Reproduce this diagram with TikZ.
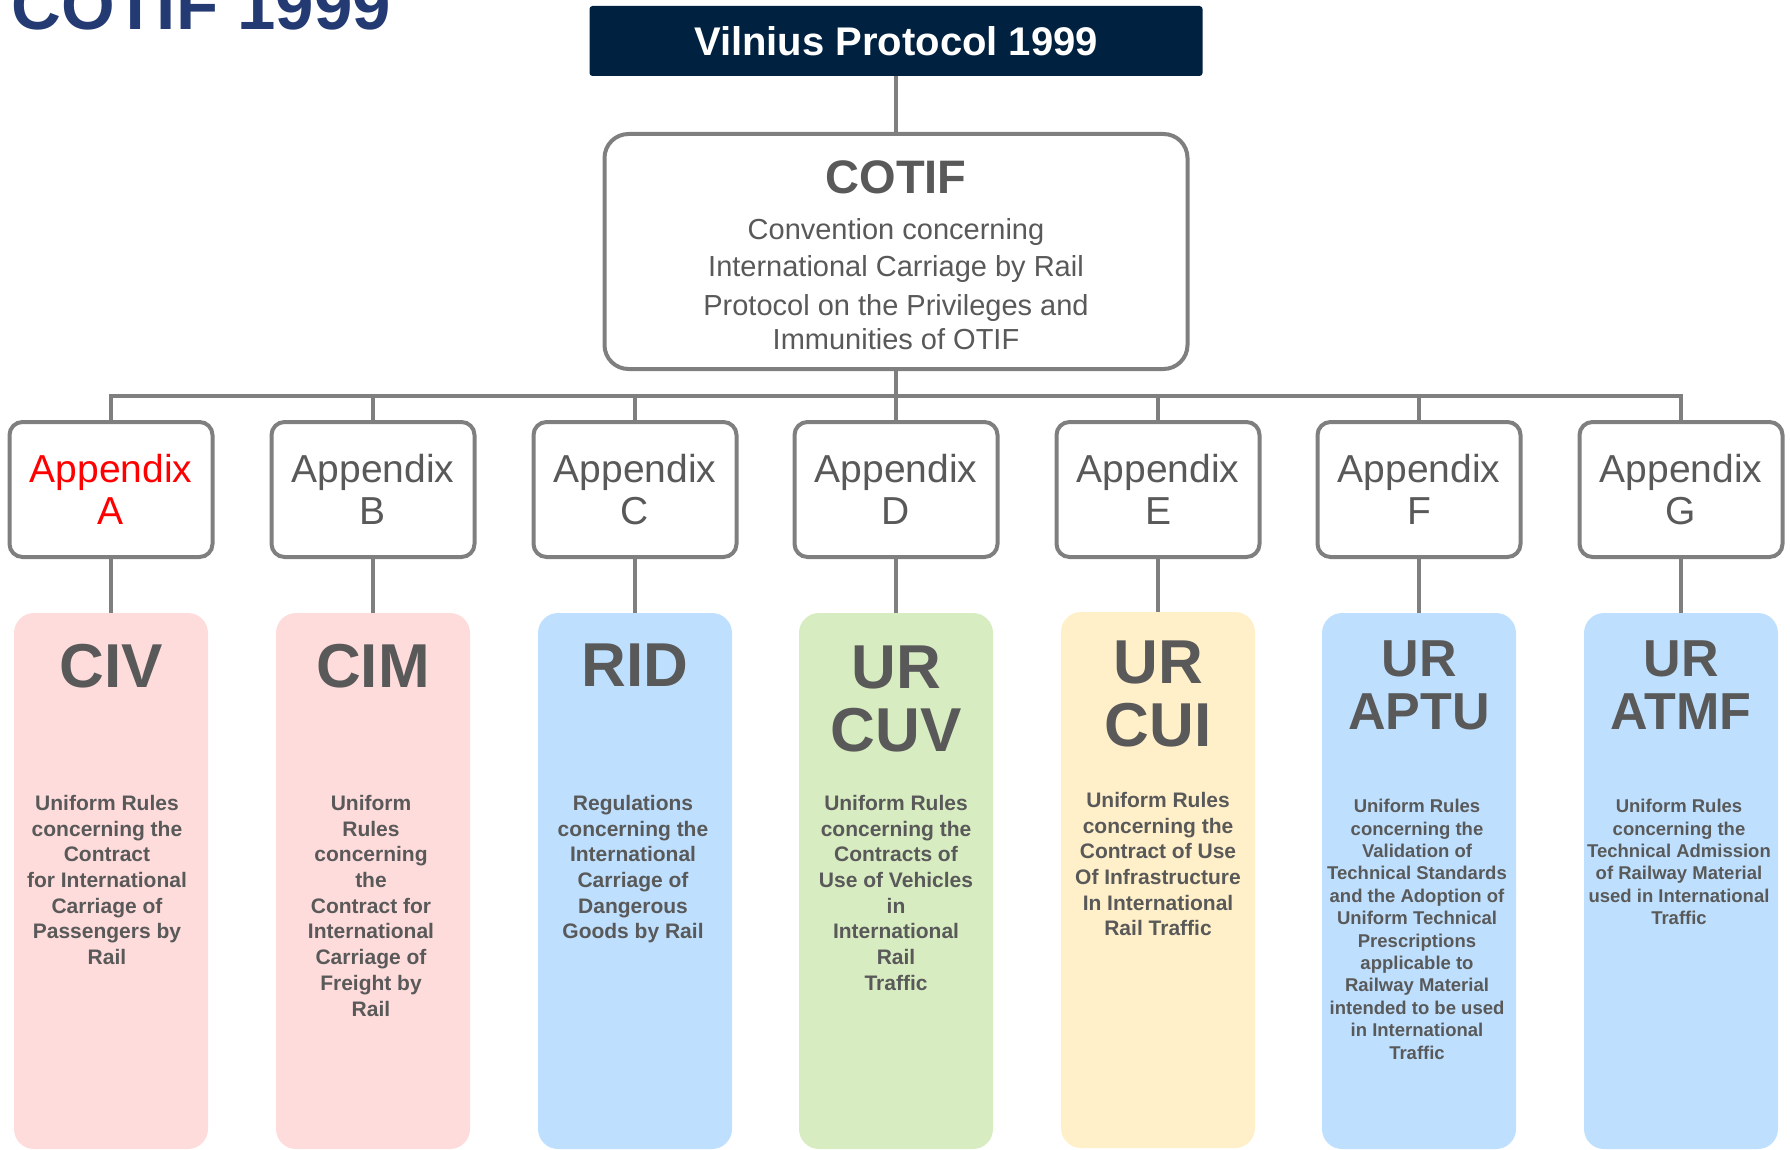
\documentclass[tikz,border=0pt]{standalone}
\usepackage{fontspec}
\setmainfont{Liberation Sans}
\definecolor{titleblue}{RGB}{36,58,115}
\definecolor{navy}{RGB}{0,33,64}
\definecolor{linegray}{RGB}{127,127,127}
\definecolor{textgray}{RGB}{89,89,89}
\definecolor{pinkfill}{RGB}{255,220,220}
\definecolor{bluefill}{RGB}{190,224,254}
\definecolor{greenfill}{RGB}{216,236,194}
\definecolor{yellowfill}{RGB}{255,240,201}

\begin{document}
\begin{tikzpicture}[x=1pt,y=-1pt,
  link/.style={draw=linegray,line width=4pt},
  appbox/.style={draw=linegray,line width=4pt,fill=white,rounded corners=13pt,
    minimum width=203pt,minimum height=135pt,inner sep=0pt,align=center,
    text=textgray,font=\fontsize{39}{42}\selectfont},
  rulebox/.style={rounded corners=20pt,minimum width=194pt,minimum height=536pt,inner sep=0pt},
  bigname/.style={anchor=north,inner sep=0pt,align=center,text=textgray,
    font=\bfseries\fontsize{62}{63}\selectfont},
  midname/.style={bigname,font=\bfseries\fontsize{52}{53}\selectfont},
  ruletext/.style={anchor=north,inner sep=0pt,align=center,text=textgray,
    font=\bfseries\fontsize{21}{25.7}\selectfont},
  smalltext/.style={ruletext,font=\bfseries\fontsize{18.5}{22.4}\selectfont}]
  \useasboundingbox (0,0) rectangle (1790,1150);

  \node[anchor=base west,inner sep=0pt,text=titleblue,font=\bfseries\fontsize{69}{70}\selectfont] (heading) at (11,30) {COTIF 1999};

  \node[fill=navy,rounded corners=3pt,minimum width=613pt,minimum height=70pt,inner sep=0pt,
    text=white,font=\bfseries\fontsize{40}{42}\selectfont] (vilnius) at (896,41) {Vilnius Protocol 1999};

  \node[draw=linegray,line width=4pt,fill=white,rounded corners=24pt,minimum width=583pt,
    minimum height=235pt,inner sep=0pt] (cotif) at (896,251.5) {};
  \node[anchor=north,inner sep=0pt,text=textgray,font=\bfseries\fontsize{47}{48}\selectfont] (cotif-title) at (896,160) {COTIF};
  \node[anchor=north,inner sep=0pt,align=center,text=textgray,font=\fontsize{29}{37}\selectfont] (cotif-conv) at (896,218) {Convention concerning\\International Carriage by Rail};
  \node[anchor=north,inner sep=0pt,align=center,text=textgray,font=\fontsize{29}{34}\selectfont] (cotif-prot) at (896,294.5) {Protocol on the Privileges and\\Immunities of OTIF};

  \node[appbox,text=red] (appA) at (111,489.5) {Appendix\\A};
  \node[appbox] (appB) at (373,489.5) {Appendix\\B};
  \node[appbox] (appC) at (635,489.5) {Appendix\\C};
  \node[appbox] (appD) at (896,489.5) {Appendix\\D};
  \node[appbox] (appE) at (1158,489.5) {Appendix\\E};
  \node[appbox] (appF) at (1419,489.5) {Appendix\\F};
  \node[appbox] (appG) at (1681,489.5) {Appendix\\G};

  \node[rulebox,fill=pinkfill] (civ) at (111,881) {};
  \node[rulebox,fill=pinkfill] (cim) at (373,881) {};
  \node[rulebox,fill=bluefill] (rid) at (635,881) {};
  \node[rulebox,fill=greenfill] (cuv) at (896,881) {};
  \node[rulebox,fill=yellowfill] (cui) at (1158,880) {};
  \node[rulebox,fill=bluefill] (aptu) at (1419,881) {};
  \node[rulebox,fill=bluefill] (atmf) at (1681,881) {};

  \node[bigname] (civ-title) at (111,644) {CIV};
  \node[bigname] (cim-title) at (373,644) {CIM};
  \node[bigname] (rid-title) at (635,644) {RID};
  \node[bigname] (cuv-title) at (896,646) {UR\\CUV};
  \node[bigname] (cui-title) at (1158,641) {UR\\CUI};
  \node[midname] (aptu-title) at (1419,640.5) {UR\\APTU};
  \node[midname] (atmf-title) at (1681,640.5) {UR\\ATMF};

  \node[ruletext] (civ-text) at (107,795) {Uniform Rules\\concerning the\\Contract\\for International\\Carriage of\\Passengers by\\Rail};
  \node[ruletext] (cim-text) at (371,795) {Uniform\\Rules\\concerning\\the\\Contract for\\International\\Carriage of\\Freight by\\Rail};
  \node[ruletext] (rid-text) at (633,795) {Regulations\\concerning the\\International\\Carriage of\\Dangerous\\Goods by Rail};
  \node[ruletext] (cuv-text) at (896,795) {Uniform Rules\\concerning the\\Contracts of\\Use of Vehicles\\in\\International\\Rail\\Traffic};
  \node[ruletext] (cui-text) at (1158,792) {Uniform Rules\\concerning the\\Contract of Use\\Of Infrastructure\\In International\\Rail Traffic};
  \node[smalltext] (aptu-text) at (1417,799) {Uniform Rules\\concerning the\\Validation of\\Technical Standards\\and the Adoption of\\Uniform Technical\\Prescriptions\\applicable to\\Railway Material\\intended to be used\\in International\\Traffic};
  \node[smalltext] (atmf-text) at (1679,799) {Uniform Rules\\concerning the\\Technical Admission\\of Railway Material\\used in International\\Traffic};

  \coordinate (hub) at (896,396);
  \draw[link] (vilnius) -- (cotif);
  \draw[link] (cotif) -- (hub);
  \draw[link] (appA) |- (hub);
  \draw[link] (appB) |- (hub);
  \draw[link] (appC) |- (hub);
  \draw[link] (appD) -- (hub);
  \draw[link] (appE) |- (hub);
  \draw[link] (appF) |- (hub);
  \draw[link] (appG) |- (hub);

  \draw[link] (appA) -- (civ);
  \draw[link] (appB) -- (cim);
  \draw[link] (appC) -- (rid);
  \draw[link] (appD) -- (cuv);
  \draw[link] (appE) -- (cui);
  \draw[link] (appF) -- (aptu);
  \draw[link] (appG) -- (atmf);

\end{tikzpicture}
\end{document}
